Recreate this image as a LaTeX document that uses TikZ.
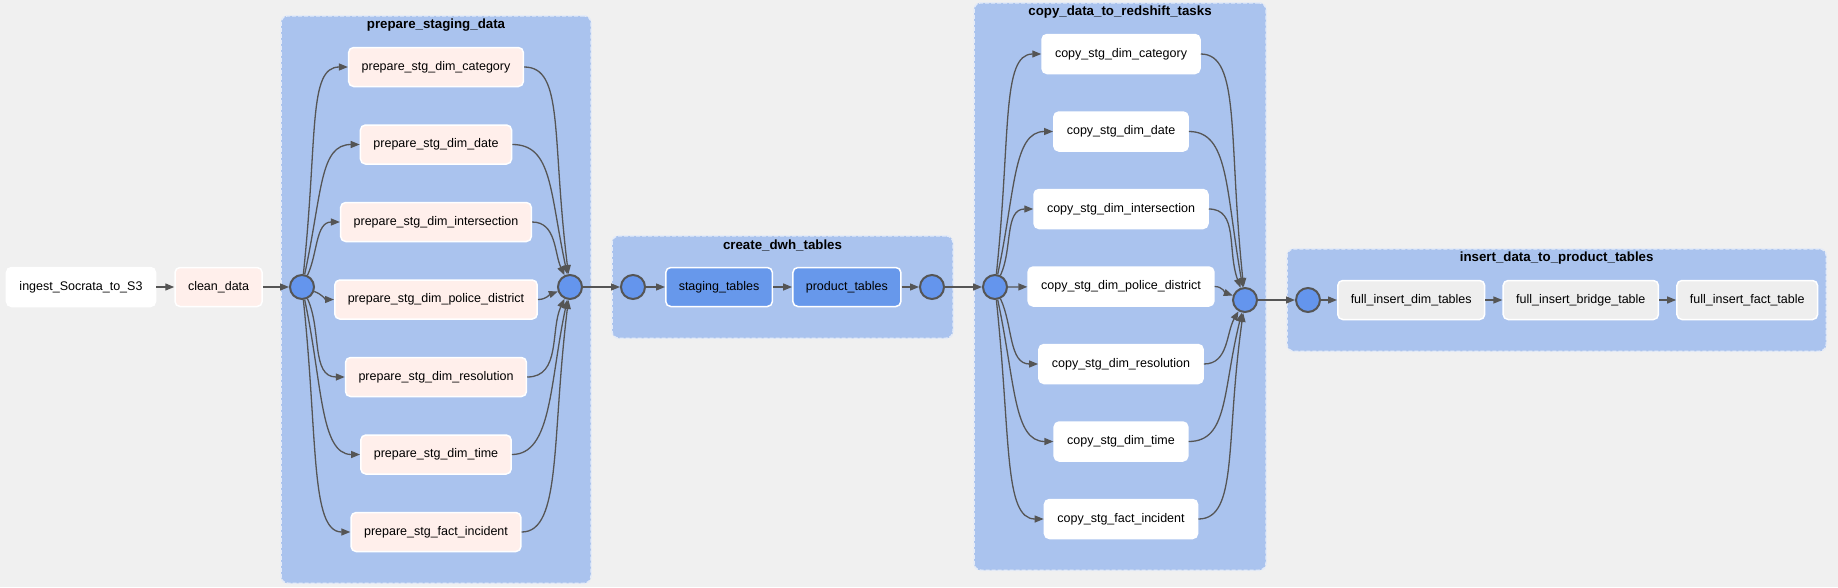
\documentclass[tikz,border=0pt]{standalone}
\usepackage{fontspec}
\setmainfont{Liberation Sans}
\usetikzlibrary{positioning}
\usetikzlibrary{fit}
\usetikzlibrary{backgrounds}
\usetikzlibrary{arrows.meta}
\definecolor{pagebg}{HTML}{F0F0F0}
\definecolor{groupfill}{HTML}{AAC3EE}
\definecolor{groupline}{HTML}{E4EBF8}
\definecolor{hubblue}{HTML}{6495ED}
\definecolor{edgegray}{HTML}{555555}
\definecolor{pyfill}{HTML}{FFEFEB}
\definecolor{ddlfill}{HTML}{6798EB}
\definecolor{sqlfill}{HTML}{EEEEEE}
\tikzset{task/.style={draw=white,line width=1.5pt,rounded corners=5pt,minimum height=39pt,inner xsep=13pt,inner ysep=0pt,text=black,font=\fontsize{12.5}{15}\selectfont}}
\tikzset{hub/.style={circle,draw=edgegray,line width=2pt,fill=hubblue,minimum size=24pt,inner sep=0pt}}
\tikzset{group/.style={draw=groupline,line width=1.5pt,dash pattern=on 4pt off 2pt,fill=groupfill,rounded corners=7pt,inner xsep=8pt,inner ysep=31pt}}
\tikzset{grouptitle/.style={inner sep=0pt,font=\bfseries\fontsize{13.3}{15}\selectfont}}
\tikzset{flow/.style={->,draw=edgegray,line width=1.3pt}}
\tikzset{>={Triangle[length=9pt,width=7pt]}}

\begin{document}
\begin{tikzpicture}[x=1pt,y=-1pt]
\useasboundingbox (0,0) rectangle (1838,587);

\node[task,fill=white] (ingest) at (81,287) {ingest\_Socrata\_to\_S3};
\node[task,fill=pyfill] (clean) [right = 18pt of ingest] {clean\_data};

% prepare_staging_data
\node[hub] (c1) at (302,287) {};
\node[hub] (c2) at (570,287) {};
\begin{scope}[on grid]
\node[task,fill=pyfill] (p1) at (436,67) {prepare\_stg\_dim\_category};
\node[task,fill=pyfill] (p2) [below = 77.5pt of p1] {prepare\_stg\_dim\_date};
\node[task,fill=pyfill] (p3) [below = 77.5pt of p2] {prepare\_stg\_dim\_intersection};
\node[task,fill=pyfill] (p4) [below = 77.5pt of p3] {prepare\_stg\_dim\_police\_district};
\node[task,fill=pyfill] (p5) [below = 77.5pt of p4] {prepare\_stg\_dim\_resolution};
\node[task,fill=pyfill] (p6) [below = 77.5pt of p5] {prepare\_stg\_dim\_time};
\node[task,fill=pyfill] (p7) [below = 77.5pt of p6] {prepare\_stg\_fact\_incident};
\end{scope}

% create_dwh_tables
\node[hub] (c3) at (633,287) {};
\node[task,fill=ddlfill] (staging) [right = 19pt of c3] {staging\_tables};
\node[task,fill=ddlfill] (product) [right = 19pt of staging] {product\_tables};
\node[hub] (c4) at (932,287) {};

% copy_data_to_redshift_tasks
\node[hub] (c5) at (995,287) {};
\node[hub] (c6) at (1245,300) {};
\begin{scope}[on grid]
\node[task,fill=white] (k1) at (1121,54) {copy\_stg\_dim\_category};
\node[task,fill=white] (k2) [below = 77.5pt of k1] {copy\_stg\_dim\_date};
\node[task,fill=white] (k3) [below = 77.5pt of k2] {copy\_stg\_dim\_intersection};
\node[task,fill=white] (k4) [below = 77.5pt of k3] {copy\_stg\_dim\_police\_district};
\node[task,fill=white] (k5) [below = 77.5pt of k4] {copy\_stg\_dim\_resolution};
\node[task,fill=white] (k6) [below = 77.5pt of k5] {copy\_stg\_dim\_time};
\node[task,fill=white] (k7) [below = 77.5pt of k6] {copy\_stg\_fact\_incident};
\end{scope}

% insert_data_to_product_tables
\node[hub] (c7) at (1308,300) {};
\node[task,fill=sqlfill] (idim) [right = 16pt of c7] {full\_insert\_dim\_tables};
\node[task,fill=sqlfill] (ibridge) [right = 17pt of idim] {full\_insert\_bridge\_table};
\node[task,fill=sqlfill] (ifact) [right = 17pt of ibridge] {full\_insert\_fact\_table};

\begin{scope}[on background layer]
\fill[pagebg] (0,0) rectangle (1838,587);
\node[group,fit=(c1) (c2) (p1) (p7)] (gprep) {};
\node[group,fit=(c3) (c4) (staging)] (gdwh) {};
\node[group,fit=(c5) (c6) (k1) (k7)] (gcopy) {};
\node[group,fit=(c7) (idim) (ifact)] (gins) {};
\end{scope}
\node[grouptitle] (tprep) at ([yshift=-10pt]gprep.north) {prepare\_staging\_data};
\node[grouptitle] (tdwh) at ([yshift=-10pt]gdwh.north) {create\_dwh\_tables};
\node[grouptitle] (tcopy) at ([yshift=-10pt]gcopy.north) {copy\_data\_to\_redshift\_tasks};
\node[grouptitle] (tins) at ([yshift=-10pt]gins.north) {insert\_data\_to\_product\_tables};

\draw[flow] (ingest) -- (clean);
\draw[flow] (clean) -- (c1);
\draw[flow] (c1) to[out=84, in=180, out distance=140pt, in distance=40pt] (p1.west);
\draw[flow] (c1) to[out=78, in=180, out distance=85pt, in distance=40pt] (p2.west);
\draw[flow] (c1) to[out=65, in=180] (p3.west);
\draw[flow] (c1) to[out=-20, in=180] (p4.west);
\draw[flow] (c1) to[out=-65, in=180] (p5.west);
\draw[flow] (c1) to[out=-78, in=180, out distance=85pt, in distance=40pt] (p6.west);
\draw[flow] (c1) to[out=-84, in=180, out distance=140pt, in distance=40pt] (p7.west);
\draw[flow] (p1.east) to[out=0, in=97, out distance=40pt, in distance=140pt] (c2);
\draw[flow] (p2.east) to[out=0, in=102, out distance=40pt, in distance=85pt] (c2);
\draw[flow] (p3.east) to[out=0, in=115] (c2);
\draw[flow] (p4.east) to[out=0, in=200] (c2);
\draw[flow] (p5.east) to[out=0, in=245] (c2);
\draw[flow] (p6.east) to[out=0, in=258, out distance=40pt, in distance=85pt] (c2);
\draw[flow] (p7.east) to[out=0, in=263, out distance=40pt, in distance=140pt] (c2);
\draw[flow] (c2) -- (c3);
\draw[flow] (c3) -- (staging);
\draw[flow] (staging) -- (product);
\draw[flow] (product) -- (c4);
\draw[flow] (c4) -- (c5);
\draw[flow] (c5) to[out=84, in=180, out distance=140pt, in distance=40pt] (k1.west);
\draw[flow] (c5) to[out=78, in=180, out distance=85pt, in distance=40pt] (k2.west);
\draw[flow] (c5) to[out=65, in=180] (k3.west);
\draw[flow] (c5) -- (k4);
\draw[flow] (c5) to[out=-65, in=180] (k5.west);
\draw[flow] (c5) to[out=-78, in=180, out distance=85pt, in distance=40pt] (k6.west);
\draw[flow] (c5) to[out=-84, in=180, out distance=140pt, in distance=40pt] (k7.west);
\draw[flow] (k1.east) to[out=0, in=96, out distance=40pt, in distance=150pt] (c6);
\draw[flow] (k2.east) to[out=0, in=100, out distance=40pt, in distance=100pt] (c6);
\draw[flow] (k3.east) to[out=0, in=110, out distance=30pt, in distance=40pt] (c6);
\draw[flow] (k4.east) to[out=0, in=160] (c6);
\draw[flow] (k5.east) to[out=0, in=240] (c6);
\draw[flow] (k6.east) to[out=0, in=256, out distance=40pt, in distance=80pt] (c6);
\draw[flow] (k7.east) to[out=0, in=262, out distance=40pt, in distance=130pt] (c6);
\draw[flow] (c6) -- (c7);
\draw[flow] (c7) -- (idim);
\draw[flow] (idim) -- (ibridge);
\draw[flow] (ibridge) -- (ifact);
\end{tikzpicture}
\end{document}
